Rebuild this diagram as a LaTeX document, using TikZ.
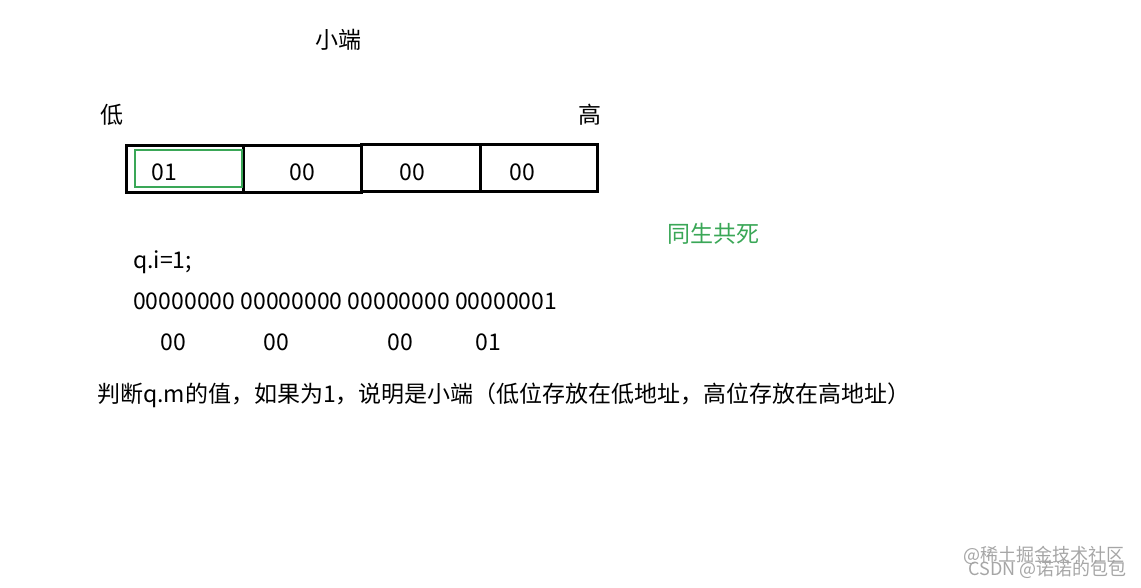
\documentclass[tikz,border=0pt]{standalone}
\usepackage{fontspec}
\setmainfont{Noto Sans CJK SC}
\usepackage{xcolor}
\usetikzlibrary{positioning}
\definecolor{vert}{HTML}{3AA757}
\tikzset{
	cell/.style={draw=black,line width=3pt,minimum width=118pt,minimum height=47pt,inner sep=0pt},
	byte/.style={inner sep=0pt,font=\fontsize{23}{27}\selectfont},
	lbl/.style={inner sep=0pt,font=\fontsize{23}{27}\selectfont},
	wm/.style={inner sep=0pt,text=black!35,font=\fontsize{18}{21}\selectfont}
}
\begin{document}
\begin{tikzpicture}[x=1pt,y=-1pt]
\useasboundingbox[fill=white] (0,0) rectangle (1141,587);

%Titre et extremites
\node[lbl] (titre) at (338,40) {小端};
\node[lbl] (bas) at (112,115) {低};
\node[lbl] (haut) at (590,115) {高};

%Cases memoire
\node[cell,minimum width=117pt] (c1) at (184.5,168.5) {};
\node[cell] (c2) at (302,168.5) {};
\node[cell,minimum width=119pt] (c3) at (420.5,168) {};
\node[cell,minimum width=117pt] (c4) at (538.5,168) {};
\draw[vert,line width=2.5pt] (135,150) rectangle (242,187);

\node[byte] (b1) at (164,172) {01};
\node[byte] (b2) at (302,172) {00};
\node[byte] (b3) at (412,172) {00};
\node[byte] (b4) at (522,172) {00};

\node[lbl,text=vert] (ensemble) at (713,234) {同生共死};

%Valeur de q.i
\node[lbl,anchor=west] (qi) at (133,262) {q.i=1;};
\node[lbl,anchor=west] (bits) at (133,301) {00000000 00000000 00000000 00000001};
\node[byte] (h1) at (173,342) {00};
\node[byte] (h2) at (276,342) {00};
\node[byte] (h3) at (400,342) {00};
\node[byte] (h4) at (488,342) {01};

\node[lbl,anchor=west] (conclusion) at (97,395) {判断q.m的值，如果为1，说明是小端（低位存放在低地址，高位存放在高地址）};

%Filigrane
\node[wm,anchor=east] (wm1) at (1125,555) {@稀土掘金技术社区};
\node[wm,anchor=east] (wm2) at (1127,569) {CSDN @诺诺的包包};
\end{tikzpicture}
\end{document}
